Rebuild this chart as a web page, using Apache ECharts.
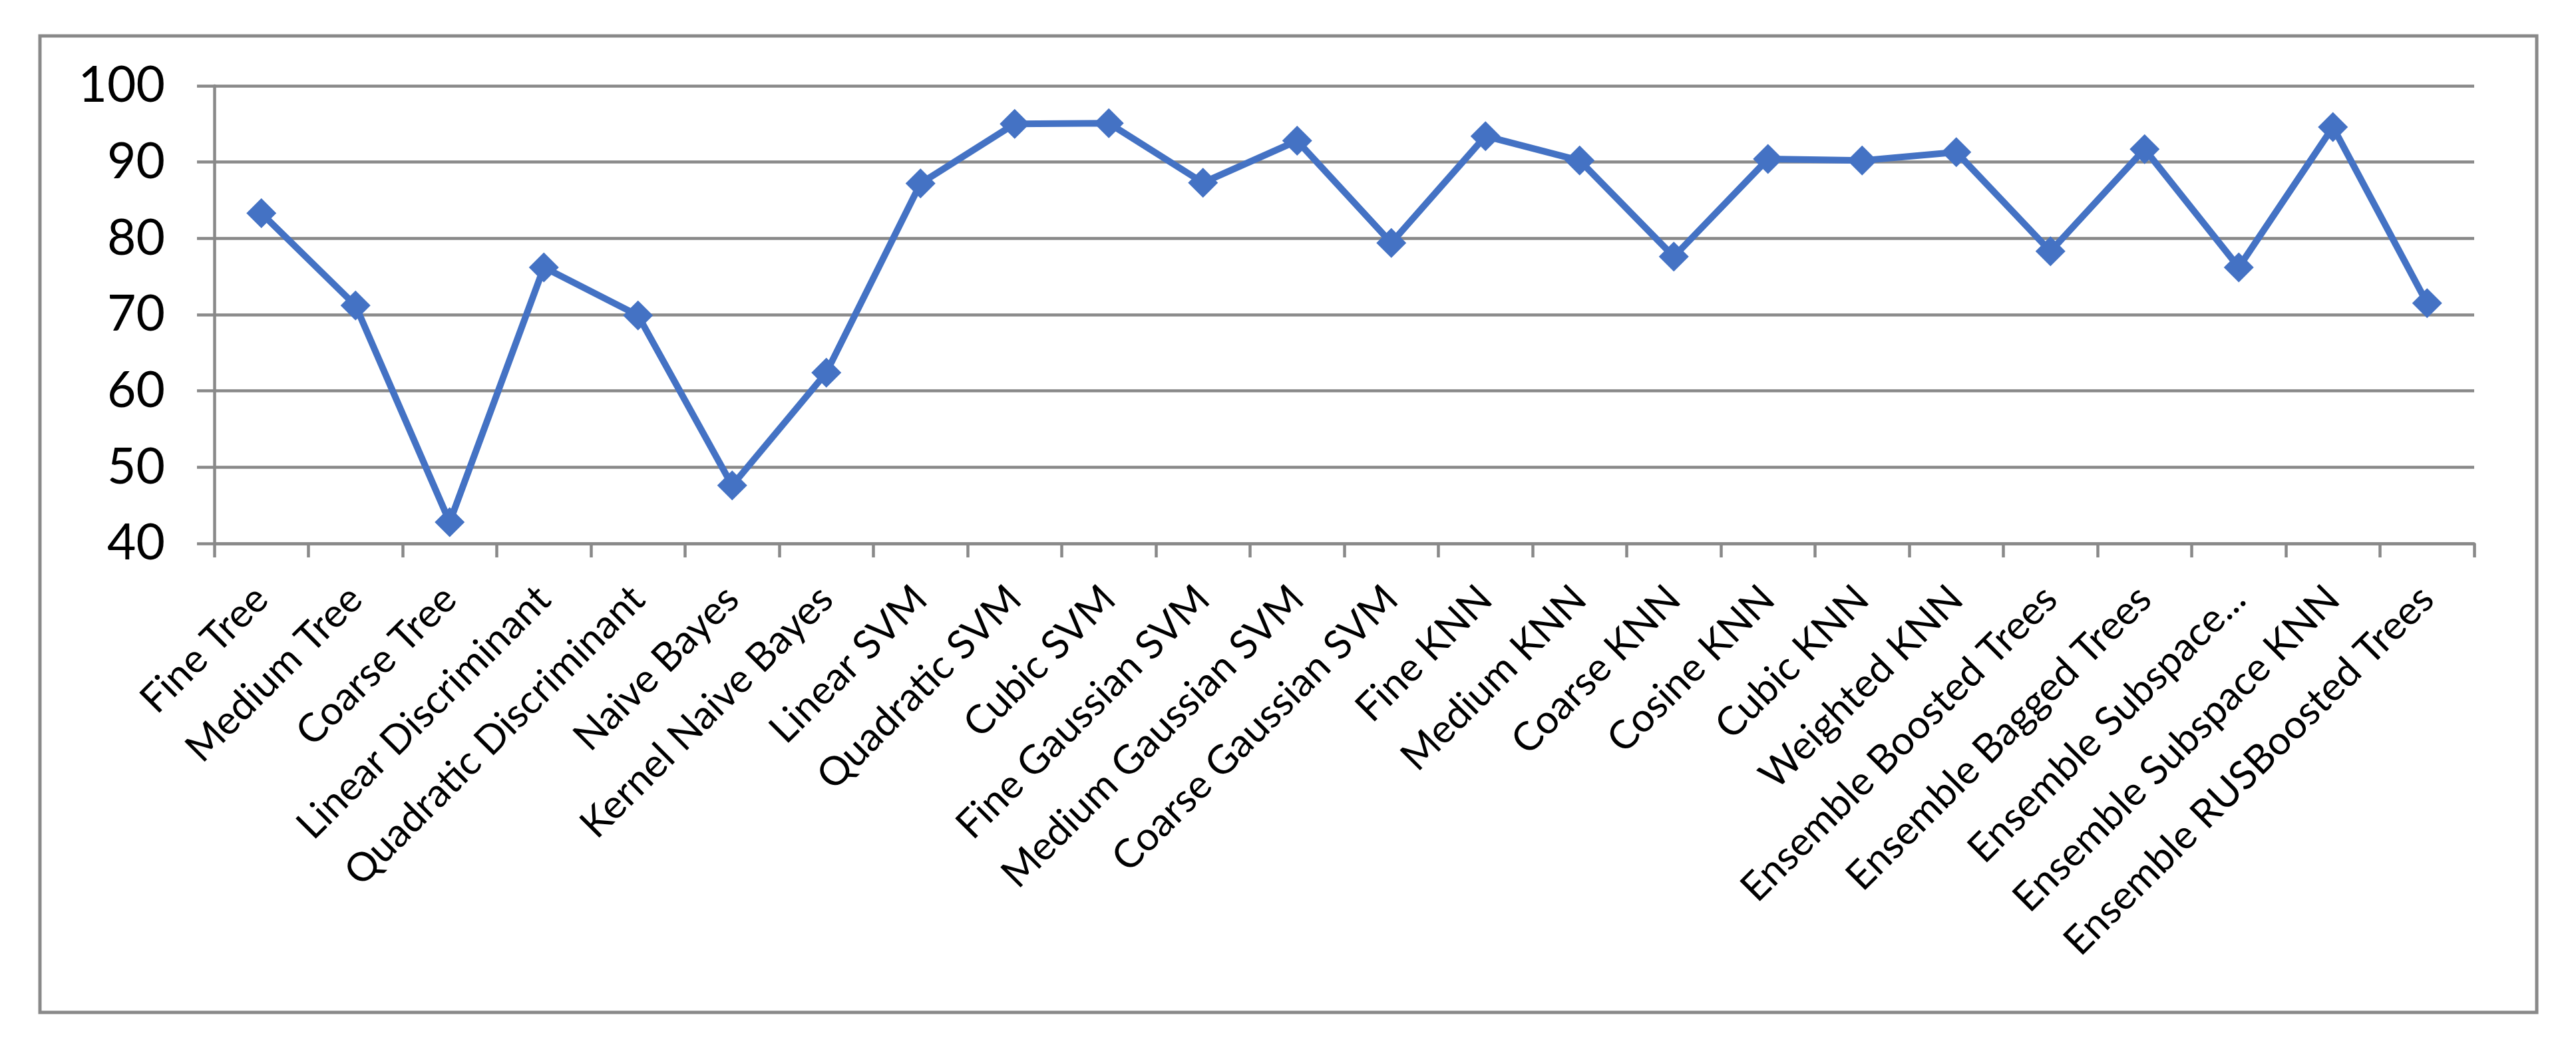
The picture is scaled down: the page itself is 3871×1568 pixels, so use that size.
<!DOCTYPE html>
<html>
<head>
<meta charset="utf-8">
<script src="https://cdn.jsdelivr.net/npm/echarts@6/dist/echarts.min.js"></script>
<style>
html,body{margin:0;padding:0;background:#fff;}
#chart{width:3871px;height:1568px;}
</style>
</head>
<body>
<div id="chart"></div>
<script>
const categories = [
  "Fine Tree", "Medium Tree", "Coarse Tree", "Linear Discriminant",
  "Quadratic Discriminant", "Naive Bayes", "Kernel Naive Bayes", "Linear SVM",
  "Quadratic SVM", "Cubic SVM", "Fine Gaussian SVM", "Medium Gaussian SVM",
  "Coarse Gaussian SVM", "Fine KNN", "Medium KNN", "Coarse KNN",
  "Cosine KNN", "Cubic KNN", "Weighted KNN", "Ensemble Boosted Trees",
  "Ensemble Bagged Trees", "Ensemble Subspace...", "Ensemble Subspace KNN",
  "Ensemble RUSBoosted Trees"
];
const accuracy = [
  83.3, 71.2, 42.8, 76.2,
  69.9, 47.6, 62.4, 87.2,
  95.0, 95.1, 87.3, 92.8,
  79.4, 93.4, 90.2, 77.6,
  90.4, 90.2, 91.3, 78.3,
  91.7, 76.2, 94.6, 71.5
];
const yMin = 40, yMax = 100, yStep = 10;

const gray = '#898989';
const blue = '#4472C4';
const chart = echarts.init(document.getElementById('chart'), null, {renderer: 'canvas'});
chart.setOption({
  backgroundColor: '#ffffff',
  animation: false,
  graphic: [{
    type: 'rect',
    z: -10,
    shape: {x: 60, y: 54, width: 3752, height: 1468},
    style: {fill: 'none', stroke: gray, lineWidth: 5}
  }],
  grid: {left: 322, top: 129, width: 3396, height: 688, containLabel: false},
  xAxis: {
    type: 'category',
    data: categories,
    boundaryGap: true,
    axisLine: {show: true, lineStyle: {color: gray, width: 4.5}},
    axisTick: {show: true, interval: 0, length: 21, lineStyle: {color: gray, width: 4.5}},
    axisLabel: {
      interval: 0, rotate: 45, margin: 74,
      fontFamily: 'Lato', fontSize: 60, color: '#000'
    },
    splitLine: {show: false}
  },
  yAxis: {
    type: 'value',
    min: yMin, max: yMax, interval: yStep,
    axisLine: {show: true, lineStyle: {color: gray, width: 4.5}},
    axisTick: {show: true, length: 26, lineStyle: {color: gray, width: 4.5}},
    axisLabel: {margin: 74, fontFamily: 'Lato', fontSize: 75, color: '#000'},
    splitLine: {show: true, lineStyle: {color: gray, width: 4.5}}
  },
  series: [{
    type: 'line',
    data: accuracy,
    symbol: 'diamond',
    symbolSize: 45,
    showSymbol: true,
    lineStyle: {color: blue, width: 10},
    itemStyle: {color: blue},
    z: 5
  }]
});
</script>
</body>
</html>
